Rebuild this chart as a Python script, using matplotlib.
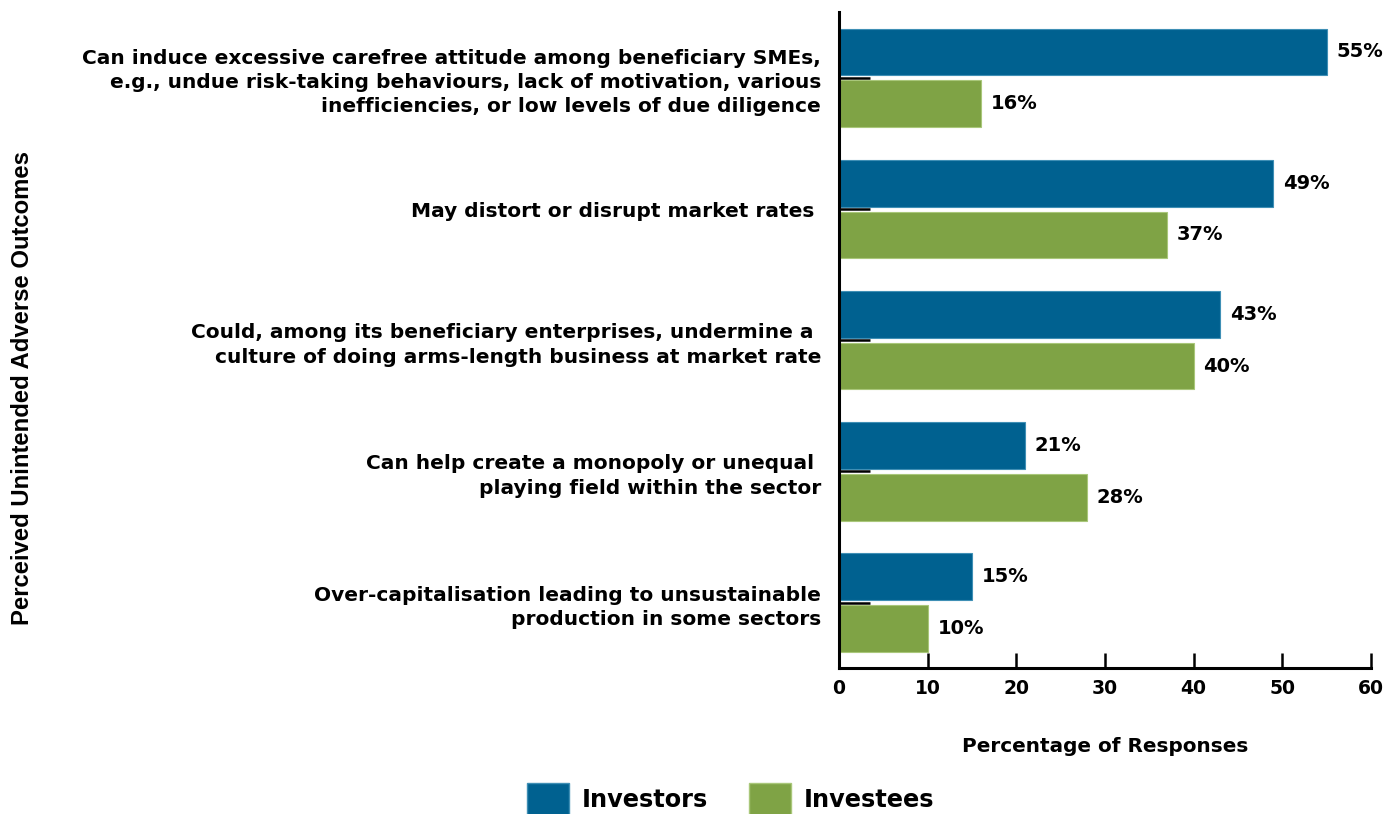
import matplotlib.pyplot as plt
import numpy as np
from matplotlib.patches import Patch

plt.rcParams['font.family'] = ['DejaVu Sans']
plt.rcParams['font.weight'] = 'bold'

categories = [
    'Can induce excessive carefree attitude among beneficiary SMEs,\n'
    'e.g., undue risk-taking behaviours, lack of motivation, various\n'
    'inefficiencies, or low levels of due diligence',
    'May distort or disrupt market rates ',
    'Could, among its beneficiary enterprises, undermine a \n'
    'culture of doing arms-length business at market rate',
    'Can help create a monopoly or unequal \nplaying field within the sector',
    'Over-capitalisation leading to unsustainable\nproduction in some sectors',
]
investors = [55, 49, 43, 21, 15]
investees = [16, 37, 40, 28, 10]
series_names = ['Investors', 'Investees']
xticks = [0, 10, 20, 30, 40, 50, 60]

blue = '#006190'
green = '#7FA345'

fig = plt.figure(figsize=(13.89, 8.14), dpi=100)
ax = fig.add_axes([0.604, 0.179, 0.383, 0.806])

y = np.arange(len(categories))
h = 0.356
off = 0.197
b1 = ax.barh(y - off, investors, height=h, color=blue, edgecolor='#3f8fb5', linewidth=0.8)
b2 = ax.barh(y + off, investees, height=h, color=green, edgecolor='#a9c77a', linewidth=0.8)

for bars, vals in ((b1, investors), (b2, investees)):
    for rect, v in zip(bars, vals):
        ax.text(rect.get_width() + 1.1, rect.get_y() + rect.get_height() / 2, f'{v}%',
                va='center', ha='left', fontsize=14, fontweight='bold')

ax.set_ylim(len(categories) - 0.5, -0.5)
ax.set_xlim(0, 60)
ax.set_yticks(y)
ax.set_yticklabels(categories, fontsize=14.5, fontweight='bold', linespacing=1.35)
ax.set_xticks(xticks)
ax.set_xticklabels([str(t) for t in xticks], fontsize=13.5, fontweight='bold')

ax.tick_params(axis='y', direction='in', length=22, width=1.8, pad=13)
ax.tick_params(axis='x', direction='in', length=11, width=1.8, pad=8)

for s in ('top', 'right'):
    ax.spines[s].set_visible(False)
for s in ('left', 'bottom'):
    ax.spines[s].set_linewidth(2.2)

ax.set_xlabel('Percentage of Responses', fontsize=14.4, fontweight='bold', labelpad=28)
fig.text(0.016, 0.523, 'Perceived Unintended Adverse Outcomes', rotation=90,
         fontsize=17.2, fontweight='bold', family='Liberation Sans', va='center', ha='center')

handles = [Patch(facecolor=blue, edgecolor='#3f8fb5'), Patch(facecolor=green, edgecolor='#a9c77a')]
fig.legend(handles, series_names, loc='center', bbox_to_anchor=(0.526, 0.018), ncol=2,
           frameon=False, handlelength=1.75, handleheight=1.75,
           columnspacing=1.7, handletextpad=0.55, prop={'weight': 'bold', 'size': 17.3})

fig.savefig('out.png', dpi=100)
